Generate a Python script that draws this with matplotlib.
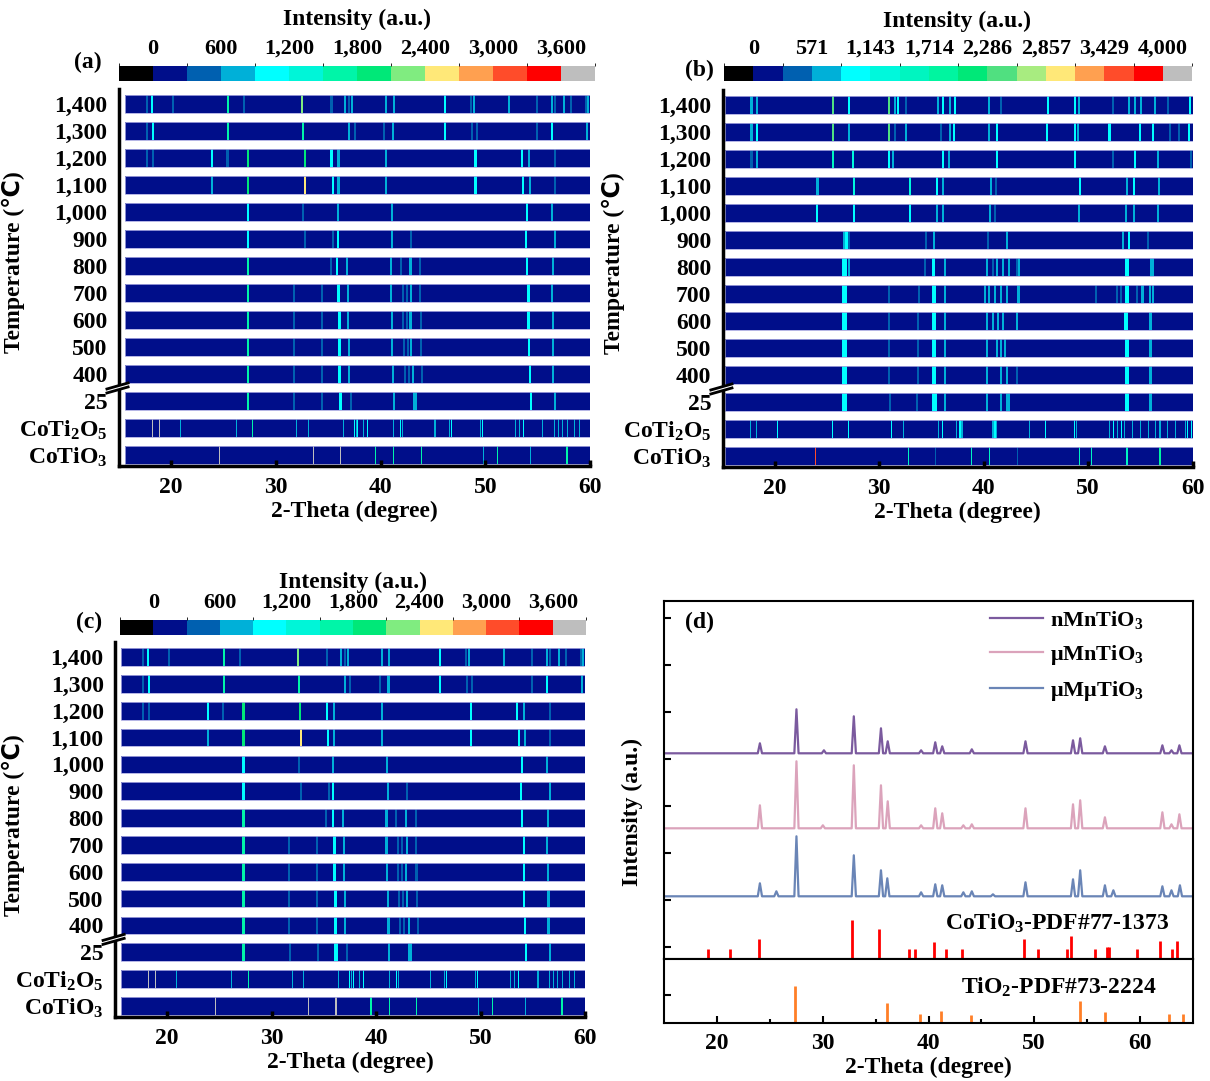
import numpy as np
import matplotlib
matplotlib.use('Agg')
import matplotlib.pyplot as plt
from matplotlib.colors import ListedColormap, BoundaryNorm
from matplotlib.cm import ScalarMappable
from matplotlib.patches import Polygon

plt.rcParams['font.family'] = ['Liberation Serif', 'DejaVu Sans']
plt.rcParams['font.weight'] = 'bold'
plt.rcParams['axes.labelweight'] = 'bold'
plt.rcParams['mathtext.fontset'] = 'custom'
plt.rcParams['mathtext.rm'] = 'Liberation Serif:bold'
plt.rcParams['mathtext.it'] = 'Liberation Serif:bold:italic'
plt.rcParams['mathtext.bf'] = 'Liberation Serif:bold'
plt.rcParams['mathtext.default'] = 'rm'

# ---------------- data ----------------
row_labels = ['1,400', '1,300', '1,200', '1,100', '1,000', '900', '800', '700',
              '600', '500', '400', '25', 'CoTi$_2$O$_5$', 'CoTiO$_3$']
background = 150          # intensity of the flat part of each strip
D, M, C = 400, 750, 1050  # weak / medium / strong peak intensity

# (2theta, intensity[, breadth]) for each strip, top to bottom
peaks_a = [
    [(17.70, D), (18.14, C), (20.19, D), (25.46, 1650), (26.99, D), (32.53, 2200), (35.32, D),
     (36.65, M), (37.03, D), (37.29, M), (40.56, M), (41.26, M), (46.13, C), (48.62, D),
     (48.92, M), (52.23, M), (54.94, D), (56.36, M), (56.62, D), (57.55, M), (58.22, D),
     (59.59, D), (59.85, M)],
    [(17.70, D), (18.25, C), (25.46, 1650), (32.64, 1650), (37.03, M), (37.55, D), (40.37, D),
     (41.19, M), (46.13, C), (48.74, D), (49.18, D), (54.94, D), (56.36, C), (59.70, M)],
    [(17.70, D), (18.25, D), (23.90, C), (25.39, D), (27.32, 2000), (32.75, 2000), (35.32, C),
     (35.99, M), (40.56, M), (49.07, C), (53.53, C), (54.20, M), (56.62, D)],
    [(23.90, M), (27.32, 2000), (32.83, 2400), (35.43, C), (35.99, M), (40.56, M), (49.07, C),
     (53.64, C), (54.28, M), (56.62, D)],
    [(27.32, C), (32.64, D), (35.91, M), (41.08, M), (54.01, C), (56.36, M)],
    [(27.32, C), (32.83, D), (35.50, D), (35.91, C), (41.12, M), (42.94, D), (53.90, C), (56.62, M)],
    [(27.32, 1700), (35.24, D), (35.87, C), (36.84, M), (41.00, M), (41.93, D), (42.86, M),
     (43.79, D), (54.01, C), (56.43, M)],
    [(27.32, 1700), (31.71, D), (34.39, D), (35.99, C, 0.3), (36.91, M), (41.00, M), (42.12, D),
     (42.49, D), (42.94, M), (43.79, D), (54.13, C), (56.36, M)],
    [(27.32, 1700), (31.71, D), (34.39, D), (36.06, C, 0.3), (36.91, M), (41.08, M), (42.12, D),
     (42.49, D), (42.86, M), (43.87, D), (54.13, C), (56.43, M)],
    [(27.32, 1700), (31.71, D), (34.39, D), (36.10, C, 0.3), (36.99, M), (41.12, M), (42.23, D),
     (42.60, D), (42.94, M), (43.90, D), (54.20, C), (56.51, M)],
    [(27.32, 1700), (31.71, D), (34.39, D), (36.10, C, 0.3), (37.03, M), (41.19, M), (42.30, D),
     (42.68, D), (43.12, M), (43.98, D), (54.28, C), (56.51, M)],
    [(27.32, 1700), (31.78, D), (34.42, D), (36.17, C, 0.3), (37.21, D), (41.26, M), (43.16, M),
     (43.35, M), (54.39, C), (56.62, M)],
    [(18.25, 4000, 0.1), (18.88, 4000, 0.1), (20.93, M, 0.1), (26.21, M, 0.1), (27.81, 1500, 0.1),
     (31.97, M, 0.1), (33.09, M, 0.1), (36.43, M, 0.1), (37.47, C, 0.1), (37.66, M, 0.1),
     (37.84, C, 0.1), (38.40, M, 0.1), (38.77, C, 0.1), (41.26, M, 0.1), (41.93, C, 0.1),
     (42.12, M, 0.1), (45.20, M, 0.1), (46.58, M, 0.1), (46.77, C, 0.1), (49.55, M, 0.1),
     (49.74, C, 0.1), (52.90, M, 0.1), (53.27, M, 0.1), (53.64, C, 0.1), (55.50, M, 0.1),
     (56.62, M, 0.1), (56.99, M, 0.1), (57.36, M, 0.1), (57.84, M, 0.1), (58.48, M, 0.1),
     (59.03, M, 0.1)],
    [(24.65, 4000, 0.1), (33.57, 4000, 0.1), (36.17, 4000, 0.1), (39.52, 1500, 0.1),
     (41.26, 1500, 0.1), (43.90, 1500, 0.1), (49.85, M, 0.1), (51.15, 1500, 0.1),
     (54.28, M, 0.1), (57.73, 1500, 0.1), (57.84, 1500, 0.1)],
]

peaks_b = [
    [(17.77, M), (18.33, M), (25.54, 2300), (27.14, C), (30.93, 2300), (31.49, M), (31.82, C),
     (32.53, D), (35.61, M), (36.06, C), (36.80, M), (37.25, C), (40.52, M), (41.64, D),
     (46.17, C), (48.70, C), (49.14, M), (52.34, D), (53.90, M), (54.46, M), (55.02, M),
     (56.43, M), (57.62, D), (59.78, C)],
    [(17.77, M), (18.33, C), (25.54, 2300), (27.14, M), (30.93, 2300), (31.49, D), (32.53, M),
     (35.87, D), (36.80, M), (37.17, C), (40.52, M), (41.26, C), (46.10, C), (48.70, C),
     (49.07, M), (52.04, C), (54.94, C), (56.21, C), (57.81, D), (58.74, D), (59.67, C, 0.25)],
    [(17.77, D), (18.33, M), (25.54, 1700), (27.51, 1300), (30.93, C), (31.30, M), (36.13, C),
     (36.69, M), (41.26, C), (48.70, C), (52.34, D), (54.46, C), (56.69, M), (59.85, D)],
    [(24.09, M), (27.55, 1300), (32.97, 1300), (35.50, C), (36.06, M), (40.71, M), (41.19, D),
     (49.18, C), (53.72, M), (54.35, C), (56.80, M)],
    [(24.05, C), (27.55, C), (32.97, C), (35.50, M), (36.06, M), (40.63, M), (41.08, D),
     (49.14, M), (53.64, M), (54.35, M), (56.69, M)],
    [(26.58, M), (26.84, C, 0.25), (27.14, D), (34.50, D), (35.24, M), (40.45, D), (42.27, M),
     (53.35, M), (53.90, C), (55.76, D)],
    [(26.69, 1100, 0.45), (27.14, M), (34.39, D), (35.20, C, 0.35), (36.25, M), (40.33, M),
     (40.89, D), (41.26, M), (41.82, M), (42.38, M), (43.20, D), (43.38, M), (53.72, C, 0.35),
     (56.13, M, 0.4)],
    [(26.69, 1100, 0.45), (30.93, D), (33.83, D), (35.24, 1100, 0.45), (36.25, M), (40.15, M),
     (40.52, M), (41.08, M), (41.64, M), (42.19, M), (43.31, M, 0.3), (50.74, D), (52.79, D),
     (53.16, D), (53.72, 1100, 0.4), (54.65, D), (55.20, M), (55.95, M), (56.21, M)],
    [(26.69, 1100, 0.45), (30.93, D), (33.75, D), (35.24, 1100, 0.45), (36.25, M), (40.33, M),
     (40.89, M), (41.34, M), (41.82, M), (43.20, M), (53.64, 1100, 0.4), (55.95, M, 0.3)],
    [(26.69, 1100, 0.45), (30.93, D), (33.75, D), (35.24, 1100, 0.45), (36.25, M), (40.33, M),
     (41.26, M), (41.64, M), (42.01, M), (53.72, 1100, 0.4), (55.95, M, 0.3)],
    [(26.69, 1100, 0.45), (30.93, D), (33.75, D), (35.24, 1100, 0.45), (36.25, M), (40.33, M),
     (41.64, M), (42.19, M), (43.20, D), (53.72, 1100, 0.4), (55.95, M, 0.3)],
    [(26.69, 1100, 0.45), (31.04, D), (33.64, D), (35.32, 1100, 0.45), (36.32, M), (40.33, M),
     (41.64, M), (42.19, M), (42.45, M), (53.72, 1100, 0.4), (55.95, M, 0.3)],
    [(17.66, M, 0.1), (18.22, M, 0.1), (20.26, C, 0.1), (25.54, C, 0.1), (27.06, C, 0.1),
     (31.15, C, 0.1), (32.34, M, 0.1), (35.69, M, 0.1), (36.06, C, 0.1), (37.36, M, 0.1),
     (37.73, C, 0.1), (37.92, M, 0.1), (40.89, M, 0.1), (41.08, C, 0.1), (41.26, M, 0.1),
     (44.42, M, 0.1), (45.91, C, 0.1), (48.70, C, 0.1), (48.92, M, 0.1), (52.04, M, 0.1),
     (52.42, C, 0.1), (52.79, M, 0.1), (53.16, C, 0.1), (53.46, M, 0.1), (54.28, M, 0.1),
     (55.02, M, 0.1), (55.76, M, 0.1), (56.43, M, 0.1), (56.88, M, 0.1), (57.62, M, 0.1),
     (58.36, M, 0.1), (59.29, M, 0.1), (59.55, C, 0.1), (59.85, C, 0.1)],
    [(23.90, 3500, 0.1), (32.83, 1500, 0.1), (35.39, D, 0.1), (38.85, 1500, 0.1),
     (40.52, 1500, 0.1), (43.20, D, 0.1), (49.14, 1500, 0.1), (50.30, 1500, 0.1),
     (53.72, 1500, 0.1), (56.88, 1900, 0.1)],
]

# panel (c) shows the same patterns as panel (a)
peaks_c = peaks_a

# colour scales
colors_a = ['#000000', '#000e8a', '#0060b0', '#00b0d8', '#00ffff', '#00f5d8', '#00f5a8',
            '#00e878', '#80ec80', '#ffe878', '#ffa050', '#ff4c2a', '#ff0000', '#bebebe']
edges_a = np.arange(-300, 3901, 300)
cticks_a = [0, 600, 1200, 1800, 2400, 3000, 3600]
clabels_a = ['0', '600', '1,200', '1,800', '2,400', '3,000', '3,600']

colors_b = ['#000000', '#000e8a', '#0060b0', '#00b0d8', '#00ffff', '#00f8dc', '#00f5c0',
            '#00f5a0', '#00e878', '#50e080', '#a8ec80', '#ffe878', '#ffa050', '#ff4c2a',
            '#ff0000', '#bebebe']
edges_b = np.linspace(-4000 / 14, 4000 + 4000 / 14, 17)
cticks_b = [0, 571.4, 1142.9, 1714.3, 2285.7, 2857.1, 3428.6, 4000]
clabels_b = ['0', '571', '1,143', '1,714', '2,286', '2,857', '3,429', '4,000']

# panel (d): peak positions / heights
nmn_pos = [24.04, 27.50, 30.10, 32.93, 35.50, 36.14, 39.30, 40.64, 41.30, 44.10, 49.18,
           53.68, 54.36, 56.70, 62.14, 63.00, 63.75]
nmn_h = [10, 44, 3, 37, 25, 12, 3, 11, 7, 4, 12, 13, 15, 7, 8, 3, 8]
umn_pos = [24.04, 27.50, 30.00, 32.93, 35.50, 36.14, 39.30, 40.64, 41.30, 43.30, 44.10,
           49.18, 53.68, 54.36, 56.70, 62.14, 63.00, 63.75]
umn_h = [23, 67, 3, 63, 43, 27, 3, 20, 15, 3, 4, 20, 24, 28, 11, 16, 4, 14]
umu_pos = [24.04, 25.60, 27.50, 32.93, 35.50, 36.10, 39.30, 40.64, 41.30, 43.30, 44.10,
           46.10, 49.18, 53.68, 54.36, 56.70, 57.50, 62.14, 63.00, 63.80]
umu_h = [13, 5, 60, 41, 26, 18, 4, 12, 11, 4, 5, 2, 14, 17, 26, 11, 6, 10, 6, 11]
offsets = {'nMnTiO$_3$': 206, 'μMnTiO$_3$': 131, 'μMμTiO$_3$': 63}

cotio3_pos = [19.10, 21.18, 23.93, 32.79, 35.36, 38.20, 38.75, 40.54, 41.64, 43.20, 49.04,
              50.36, 53.10, 53.50, 55.79, 56.90, 57.10, 59.75, 61.96, 63.07, 63.57]
cotio3_h = [10, 10, 20, 39, 30, 10, 10, 17, 10, 10, 20, 10, 10, 23, 10, 12, 12, 10, 18, 10, 18]
tio2_pos = [27.32, 36.07, 39.18, 41.18, 44.00, 54.36, 56.68, 62.75, 64.10]
tio2_h = [37, 20, 9, 12, 8, 22, 11, 9, 9]

# ---------------- drawing ----------------
W, H = 1210, 1081
fig = plt.figure(figsize=(W / 100, H / 100), dpi=100)


def fx(px):
    return px / W


def fy(py):
    return 1 - py / H


def heat_panel(rect, crect, peaks, colors, edges, cticks, clabels, x0, letter, letter_px,
               title_px, ylab_xy):
    ax = fig.add_axes(rect)
    cmap = ListedColormap(colors)
    cmap.set_over(colors[-1])
    norm = BoundaryNorm(edges, cmap.N)
    rows = np.arange(len(row_labels))[::-1]
    hgt = 0.66
    for y, pk in zip(rows, peaks):
        ax.barh(y, 60 - x0, left=x0, height=hgt, color=cmap(norm(background)), linewidth=0)
        for p in pk:
            w = p[2] if len(p) > 2 else 0.2
            ax.bar(p[0], hgt, width=w, bottom=y - hgt / 2, color=cmap(norm(p[1])), linewidth=0)
        ax.barh(y, 60 - x0, left=x0, height=hgt, facecolor='none', edgecolor='#a8a8e0',
                linewidth=0.6)
    ax.set_xlim(15, 60)
    ax.set_ylim(-0.41, 13.56)
    ax.set_yticks(rows)
    ax.set_yticklabels(row_labels)
    ax.set_xticks([20, 30, 40, 50, 60])
    ax.tick_params(axis='y', length=0, pad=8, labelsize=17)
    ax.tick_params(axis='x', direction='in', length=4, width=2.5, pad=8, labelsize=17)
    for s in ('top', 'right'):
        ax.spines[s].set_visible(False)
    for s in ('left', 'bottom'):
        ax.spines[s].set_linewidth(2.5)
    ax.set_xlabel('2-Theta (degree)', fontsize=17, labelpad=2)
    ax.set_ylabel('Temperature (℃)', fontsize=17)
    ax.yaxis.set_label_coords(*ylab_xy)
    # axis break marks between 400 and 25
    yb, dy, sep = 0.207, 0.008, 0.0053
    xa, xb = -0.025, 0.02
    poly = Polygon([(xa, yb - sep - dy), (xb, yb - sep + dy), (xb, yb + sep + dy),
                    (xa, yb + sep - dy)], closed=True, facecolor='white', edgecolor='none',
                   transform=ax.transAxes, clip_on=False, zorder=5)
    ax.add_patch(poly)
    for s in (-sep, sep):
        ax.plot([xa, xb], [yb + s - dy, yb + s + dy], color='black', lw=2,
                transform=ax.transAxes, clip_on=False, zorder=6)

    cax = fig.add_axes(crect)
    cb = fig.colorbar(ScalarMappable(norm=norm, cmap=cmap), cax=cax, orientation='horizontal',
                      ticklocation='top', ticks=cticks)
    cb.outline.set_visible(False)
    cax.set_xticklabels(clabels)
    cax.tick_params(length=0, labelsize=16, pad=5)
    fig.text(fx(title_px[0]), fy(title_px[1]), 'Intensity (a.u.)', fontsize=17,
             ha='center', va='center')
    fig.text(fx(letter_px[0]), fy(letter_px[1]), letter, fontsize=17, ha='center', va='center')
    return ax


heat_panel([fx(118.7), fy(466), fx(471.3), 377 / H], [fx(119), fy(81), fx(476), 15 / H],
           peaks_a, colors_a, edges_a, cticks_a, clabels_a, 15.6, '(a)', (88, 62), (357, 19),
           (-0.199, 0.541))
heat_panel([fx(722.6), fy(467), fx(470), 377 / H], [fx(724), fy(81), fx(468), 15 / H],
           peaks_b, colors_b, edges_b, cticks_b, clabels_b, 15.2, '(b)', (699, 70), (957, 21),
           (-0.208, 0.541))
heat_panel([fx(114.8), fy(1017), fx(470.2), 375 / H], [fx(120), fy(635), fx(466), 15 / H],
           peaks_c, colors_a, edges_a, cticks_a, clabels_a, 15.6, '(c)', (89, 622), (353, 582),
           (-0.191, 0.512))

# panel (d)
axu = fig.add_axes([fx(664.4), fy(959.3), fx(528.2), 358.6 / H])
axl = fig.add_axes([fx(664.4), fy(1023), fx(528.2), 63.7 / H], sharex=axu)

trace_colors = ['#7b5a9e', '#dba3bb', '#6a85b6']
half = 0.2
for (name, base), pos, h, col in zip(offsets.items(), [nmn_pos, umn_pos, umu_pos],
                                     [nmn_h, umn_h, umu_h], trace_colors):
    xs, ys = [15], [base]
    for p, hh in zip(pos, h):
        xs += [p - half, p, p + half]
        ys += [base, base + hh, base]
    xs.append(65)
    ys.append(base)
    axu.plot(xs, ys, color=col, lw=1.6, label=name)

axu.vlines(cotio3_pos, 0, cotio3_h, color='#ff0000', lw=2)
axl.vlines(tio2_pos, 0, tio2_h, color='#ff7f27', lw=2)

axu.set_xlim(15, 65)
axu.set_ylim(0, 358.6)
axl.set_ylim(0, 63.7)
axu.set_yticks([12, 59, 106, 153, 200, 247, 294, 341])
axl.set_yticks([28])
for a in (axu, axl):
    a.tick_params(axis='y', direction='in', length=5, width=1.5, labelleft=False)
    for s in a.spines.values():
        s.set_linewidth(1.5)
axu.tick_params(axis='x', bottom=False, labelbottom=False)
axl.set_xticks([20, 30, 40, 50, 60])
axl.set_xticks([25, 35, 45, 55], minor=True)
axl.tick_params(axis='x', which='major', direction='in', length=5, width=1.5, labelsize=17, pad=7)
axl.tick_params(axis='x', which='minor', direction='in', length=3, width=1.5)
axl.set_xlabel('2-Theta (degree)', fontsize=17, labelpad=2)

axu.text(52.16, 36.3, 'CoTiO$_3$-PDF#77-1373', fontsize=17, ha='center', va='center')
axl.text(52.3, 36, 'TiO$_2$-PDF#73-2224', fontsize=17, ha='center', va='center')

axu.legend(loc='upper left', bbox_to_anchor=(0.616, 0.978), frameon=False, fontsize=16,
           handlelength=2.4, handletextpad=0.3, labelspacing=0.55, borderaxespad=0,
           borderpad=0)
fig.text(fx(632), fy(812), 'Intensity (a.u.)', fontsize=17, rotation=90, ha='center',
         va='center')
fig.text(fx(699), fy(622), '(d)', fontsize=17, ha='center', va='center')

fig.savefig('out.png', dpi=100)
